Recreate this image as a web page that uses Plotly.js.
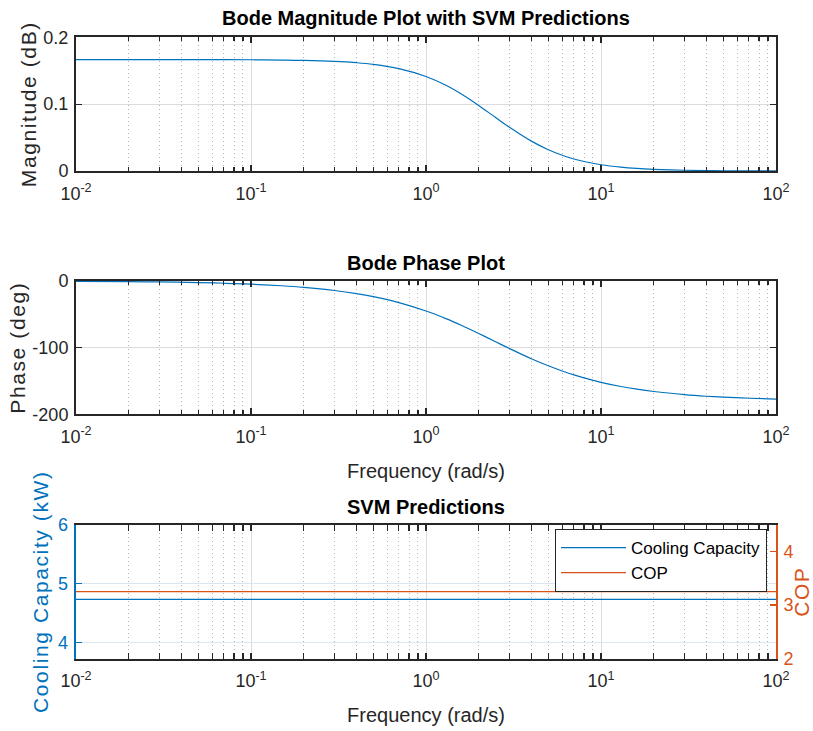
<!DOCTYPE html>
<html>
<head>
<meta charset="utf-8">
<script src="https://cdn.plot.ly/plotly-3.0.1.min.js"></script>
<style>
html,body{margin:0;padding:0;background:#fff;}
#chart{width:813px;height:731px;}
text.ytitle, text.y2title, text.y3title, text.y4title { letter-spacing: 1.6px; }
</style>
</head>
<body>
<div id="chart"></div>
<script>
// Frequencies (rad/s)
const freq = [0.01,0.02,0.03,0.05,0.07,0.1,0.15,0.2,0.3,0.4,0.5,0.7,1,1.3,1.6,2,2.5,3,4,5,6,7,8,10,13,16,20,30,40,50,70,100];
// Magnitude values
const magnitude = [0.1667,0.1667,0.1666,0.1666,0.1665,0.1664,0.1660,0.1655,0.1640,0.1620,0.1595,0.1532,0.1414,0.1282,0.1148,0.0981,0.0800,0.0654,0.0447,0.0318,0.0236,0.0180,0.0142,0.0094,0.0057,0.0038,0.0025,0.0011,0.0006,0.0004,0.0002,0.0001];
// Phase values (deg)
const phase = [-0.48,-0.95,-1.43,-2.39,-3.34,-4.77,-7.15,-9.52,-14.24,-18.9,-23.5,-32.4,-45.0,-56.4,-66.7,-78.7,-91.2,-101.3,-116.6,-127.2,-135.0,-140.9,-145.4,-152.0,-158.3,-162.3,-165.8,-170.5,-172.9,-174.3,-175.9,-177.1];
// SVM predictions (constant across frequency)
const svmFreq = [0.01, 100];
const coolingCapacity = [4.73, 4.73];
const cop = [3.25, 3.25];
const seriesNames = ['Cooling Capacity', 'COP'];
const titles = ['Bode Magnitude Plot with SVM Predictions', 'Bode Phase Plot', 'SVM Predictions'];
// Tick values and labels
const freqTicks = [0.01, 0.1, 1, 10, 100];
const freqTickText = ['10<sup>-2</sup>', '10<sup>-1</sup>', '10<sup>0</sup>', '10<sup>1</sup>', '10<sup>2</sup>'];
const magTicks = [0, 0.1, 0.2];
const magTickText = ['0', '0.1', '0.2'];
const phaseTicks = [-200, -100, 0];
const phaseTickText = ['-200', '-100', '0'];
const capTicks = [4, 5, 6];
const capTickText = ['4', '5', '6'];
const copTicks = [2, 3, 4];
const copTickText = ['2', '3', '4'];

// minor log ticks: 2..9 within each decade
const minorTicks = [];
for (let k = 0; k < freqTicks.length - 1; k++) {
  for (let m = 2; m <= 9; m++) minorTicks.push(m * freqTicks[k]);
}

const BLUE = '#0072BD', ORANGE = '#D95319', INK = '#262626';
const FONT = 'Liberation Sans, Arial, sans-serif';
const W = 813, H = 731;
const xd = [76/W, 776/W];
const d1 = [1-171/H, 1-37.3/H];
const d2 = [1-414.3/H, 1-281/H];
const d3 = [1-658.7/H, 1-524.7/H];
const TICKSIZE = 18, LABELSIZE = 20, YLABELSIZE = 21;

function xax(domain, anchor, showTitle) {
  const a = {
    type: 'log', range: [-2, 2], domain: domain, anchor: anchor,
    tickmode: 'array', tickvals: freqTicks, ticktext: freqTickText,
    ticks: 'inside', ticklen: 6, tickwidth: 1.3, tickcolor: INK,
    ticklabelstandoff: 5,
    showline: true, linecolor: INK, linewidth: 2, mirror: 'allticks',
    showgrid: true, gridcolor: '#dcdcdc', gridwidth: 1,
    zeroline: false,
    tickfont: {family: FONT, size: TICKSIZE, color: INK},
    minor: {tickmode: 'array', tickvals: minorTicks, ticks: 'inside', ticklen: 4, tickcolor: INK, tickwidth: 1.2,
            showgrid: true, griddash: '1px,3px', gridcolor: '#b4b4b4', gridwidth: 1},
    fixedrange: true
  };
  if (showTitle) a.title = {text: 'Frequency (rad/s)', font: {family: FONT, size: LABELSIZE, color: INK}, standoff: 18};
  return a;
}
function yax(domain, anchor, range, tv, tt, title) {
  return {
    domain: domain, anchor: anchor, range: range,
    tickmode: 'array', tickvals: tv, ticktext: tt,
    ticks: 'inside', ticklen: 6, tickwidth: 1.3, tickcolor: INK,
    ticklabelstandoff: 2,
    showline: true, linecolor: INK, linewidth: 2, mirror: 'allticks',
    showgrid: true, gridcolor: '#dcdcdc', zeroline: false,
    tickfont: {family: FONT, size: TICKSIZE, color: INK},
    title: {text: title, font: {family: FONT, size: YLABELSIZE, color: INK}, standoff: 1},
    fixedrange: true
  };
}

const traces = [
  {x: freq, y: magnitude, xaxis: 'x', yaxis: 'y', mode: 'lines', line: {color: BLUE, width: 1.2, shape: 'spline'}, showlegend: false},
  {x: freq, y: phase, xaxis: 'x2', yaxis: 'y2', mode: 'lines', line: {color: BLUE, width: 1.2, shape: 'spline'}, showlegend: false},
  {x: svmFreq, y: coolingCapacity, xaxis: 'x3', yaxis: 'y3', mode: 'lines', name: seriesNames[0], line: {color: BLUE, width: 1.2}},
  {x: svmFreq, y: cop, xaxis: 'x3', yaxis: 'y4', mode: 'lines', name: seriesNames[1], line: {color: ORANGE, width: 1.2}}
];

const y3 = yax(d3, 'x3', [3.72, 6], capTicks, capTickText, 'Cooling Capacity (kW)');
y3.mirror = false; y3.linecolor = BLUE; y3.tickcolor = BLUE; y3.gridcolor = '#dbe6f0';
y3.tickfont.color = BLUE; y3.title.font.color = BLUE; y3.linewidth = 2.5; y3.title.standoff = 4;
const y4 = {
  overlaying: 'y3', side: 'right', anchor: 'x3', range: [2, 4.5],
  tickmode: 'array', tickvals: copTicks, ticktext: copTickText,
  ticks: 'inside', ticklen: 6, tickwidth: 1.3, tickcolor: ORANGE,
  ticklabelstandoff: 2,
  showline: true, linecolor: ORANGE, linewidth: 2, showgrid: false, zeroline: false,
  tickfont: {family: FONT, size: TICKSIZE, color: ORANGE},
  title: {text: 'COP', font: {family: FONT, size: YLABELSIZE, color: ORANGE}, standoff: 7},
  fixedrange: true
};

const layout = {
  width: W, height: H,
  margin: {l: 0, r: 0, t: 0, b: 0},
  paper_bgcolor: '#fff', plot_bgcolor: '#fff',
  font: {family: FONT, color: INK},
  xaxis: xax(xd, 'y', false),
  yaxis: yax(d1, 'x', [0, 0.2], magTicks, magTickText, 'Magnitude (dB)'),
  xaxis2: xax(xd, 'y2', true),
  yaxis2: yax(d2, 'x2', [-200, 0], phaseTicks, phaseTickText, 'Phase (deg)'),
  xaxis3: xax(xd, 'y3', true),
  yaxis3: y3,
  yaxis4: y4,
  showlegend: true,
  legend: {x: 555/W, y: 1-529/H, xanchor: 'left', yanchor: 'top', bgcolor: '#fff', bordercolor: INK, borderwidth: 1,
           font: {family: FONT, size: 17, color: '#000'}, tracegroupgap: 0, itemwidth: 65},
  annotations: [
    {text: '<b>' + titles[0] + '</b>', xref: 'paper', yref: 'paper', x: 426/W, y: 1-18/H, yanchor: 'middle', showarrow: false, font: {family: FONT, size: 20, color: '#000'}},
    {text: '<b>' + titles[1] + '</b>', xref: 'paper', yref: 'paper', x: 426/W, y: 1-263/H, yanchor: 'middle', showarrow: false, font: {family: FONT, size: 20, color: '#000'}},
    {text: '<b>' + titles[2] + '</b>', xref: 'paper', yref: 'paper', x: 426/W, y: 1-507/H, yanchor: 'middle', showarrow: false, font: {family: FONT, size: 20, color: '#000'}}
  ]
};

Plotly.newPlot('chart', traces, layout, {staticPlot: true, displayModeBar: false});
</script>
</body>
</html>
